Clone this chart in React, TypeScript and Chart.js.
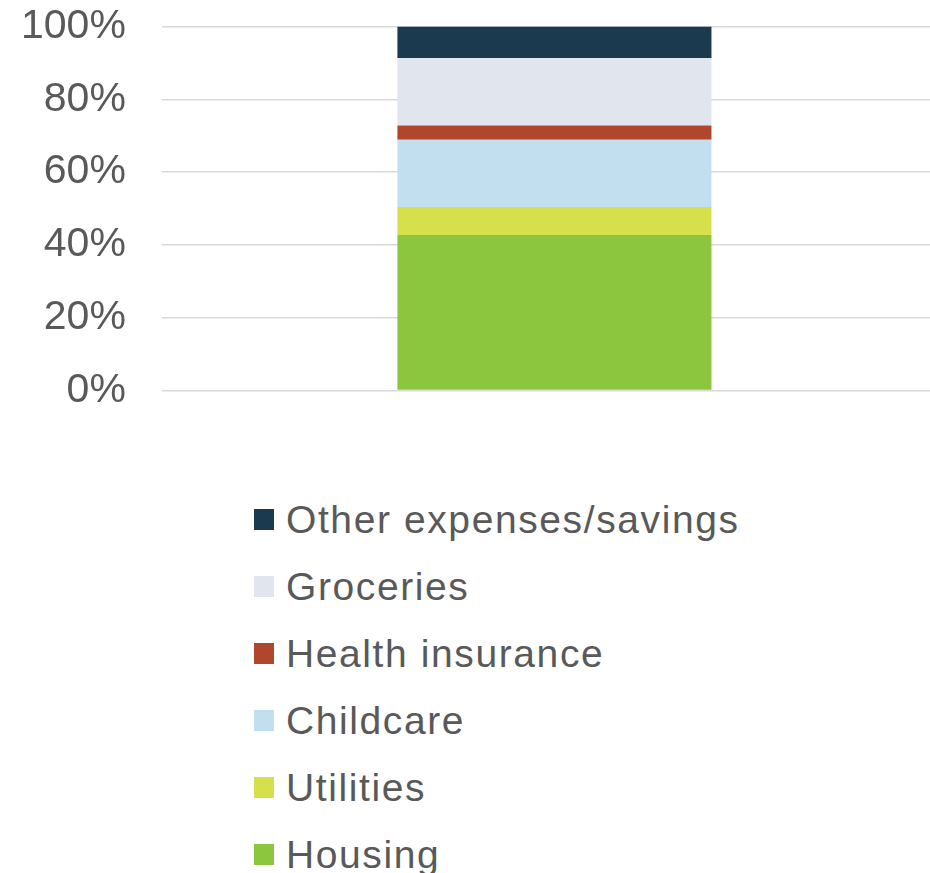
import React, { useEffect, useRef } from "react";
import { Chart, registerables } from "chart.js";

Chart.register(...registerables);

const categories = ["Budget"];
const seriesNames = ["Housing", "Utilities", "Childcare", "Health insurance", "Groceries", "Other expenses/savings"];
const seriesValues = [42.7, 7.7, 18.5, 3.9, 18.6, 8.6];
const seriesColors = ["#8cc63f", "#d5e04b", "#c2dff0", "#b0472c", "#e1e5ee", "#1c3a4f"];
const yTicks = [0, 20, 40, 60, 80, 100];

const FONT = "'Liberation Sans', Arial, sans-serif";
const TEXT = "#595959";

export default function App() {
  const ref = useRef<HTMLCanvasElement | null>(null);

  useEffect(() => {
    if (!ref.current) return;
    const chart = new Chart(ref.current, {
      type: "bar",
      data: {
        labels: categories,
        datasets: seriesNames.map((name, i) => ({
          label: name,
          data: [seriesValues[i]],
          backgroundColor: seriesColors[i],
          borderWidth: 0,
          barPercentage: 0.4,
          categoryPercentage: 1,
        })),
      },
      options: {
        responsive: false,
        animation: false,
        maintainAspectRatio: false,
        layout: { padding: { left: 18, top: 2, right: 0, bottom: 0 } },
        plugins: { legend: { display: false }, tooltip: { enabled: false } },
        scales: {
          x: {
            stacked: true,
            display: true,
            grid: { display: false, drawTicks: false },
            border: { display: false },
            ticks: { display: false },
          },
          y: {
            stacked: true,
            min: 0,
            max: 100,
            afterBuildTicks: (axis: any) => {
              axis.ticks = yTicks.map((v) => ({ value: v }));
            },
            grid: { color: "#d9d9d9", lineWidth: 1.5, drawTicks: false },
            border: { display: false },
            ticks: {
              padding: 36,
              color: TEXT,
              font: { family: FONT, size: 41 },
              callback: (v: any) => v + "%",
            },
          },
        },
      },
    });
    return () => chart.destroy();
  }, []);

  const legendOrder = seriesNames.map((_, i) => i).reverse();

  return (
    <div style={{ position: "absolute", left: 0, top: 0, width: 930, height: 873, background: "#fff", overflow: "hidden" }}>
      <canvas ref={ref} width={980} height={485} style={{ position: "absolute", left: -33, top: -34, width: 980, height: 485 }} />
      <div style={{ position: "absolute", left: 254, top: 486, fontFamily: FONT, color: TEXT, fontSize: 39, letterSpacing: "1.6px" }}>
        {legendOrder.map((i) => (
          <div key={i} style={{ display: "flex", alignItems: "center", height: 67 }}>
            <span style={{ display: "inline-block", width: 20, height: 21, background: seriesColors[i], marginRight: 12 }} />
            <span style={{ lineHeight: "67px", whiteSpace: "nowrap" }}>{seriesNames[i]}</span>
          </div>
        ))}
      </div>
    </div>
  );
}
